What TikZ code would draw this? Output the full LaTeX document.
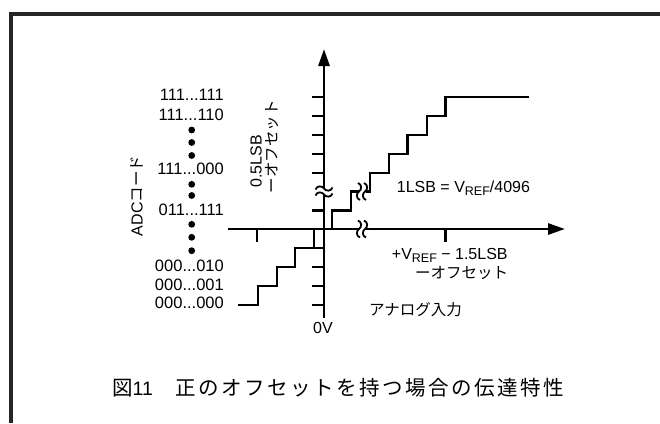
\documentclass[tikz,border=0pt]{standalone}
\usepackage{fontspec}
\setmainfont{Liberation Sans}
\newfontfamily\jp{Noto Sans CJK JP}
\newfontfamily\jpcap[LetterSpace=12]{Noto Sans CJK JP}
\usetikzlibrary{arrows.meta}
\tikzset{
  axisline/.style={line width=2.8bp, -{Triangle[length=17bp,width=11bp]}},
  tickline/.style={line width=2.8bp},
  stairline/.style={line width=2.8bp, line join=miter},
  brkline/.style={line width=1.8bp},
  frameline/.style={line width=3.5bp, draw=black!85, line join=miter},
  lbl/.style={inner sep=0pt, font=\fontsize{16bp}{19bp}\selectfont},
  codelbl/.style={inner sep=0pt, font=\fontsize{16.5bp}{19bp}\selectfont},
  jlbl/.style={inner sep=0pt, font=\jp\fontsize{15.5bp}{18bp}\selectfont},
  capt/.style={inner sep=0pt, font={\jpcap\fontsize{20.5bp}{24bp}\selectfont}},
  codedot/.style={fill=black},
  brk/.pic={
    \fill[white] (-3.5,-4) rectangle (3.5,4);
    \draw[brkline] (-4,-8.5) .. controls (0,-7) and (0,-2) .. (-3,0) .. controls (-6,2) and (-6,7) .. (-2,8.5);
    \draw[brkline] (2,-8.5) .. controls (6,-7) and (6,-2) .. (3,0) .. controls (0,2) and (0,7) .. (4,8.5);
  }
}
\begin{document}
\begin{tikzpicture}[x=1bp,y=-1bp]
\useasboundingbox (0,0) rectangle (660,423);
% frame (top and left edges)
\coordinate (fb) at (11,423);
\coordinate (fc) at (11,14);
\coordinate (fr) at (660,14);
\draw[frameline] (fb) -- (fc) -- (fr);
% axes
\coordinate (O) at (324,229);
\coordinate (vbot) at (324,318);
\coordinate (vtop) at (324,49);
\coordinate (hleft) at (228,229);
\coordinate (hright) at (565,229);
\draw[axisline] (vbot) -- (vtop);
\draw[axisline] (hleft) -- (hright);
% ticks on vertical axis
\foreach \y in {97,116,135,154,173,210.5,248,267,286,305}
  \draw[tickline] (312,\y) -- (324,\y);
% ticks on horizontal axis
\foreach \x in {257,445.5}
  \draw[tickline] (\x,229) -- (\x,242);
% staircase
\draw[stairline] (238,305) -- (258,305) -- (258,286) -- (277,286) -- (277,267)
  -- (295,267) -- (295,248) -- (314,248) -- (314,229) -- (332,229) -- (332,210.5)
  -- (351,210.5) -- (351,191.5) -- (370,191.5) -- (370,173) -- (389,173)
  -- (389,154) -- (407.5,154) -- (407.5,135) -- (427,135) -- (427,116)
  -- (445.5,116) -- (445.5,97) -- (529,97);
% breaks
\pic at (362,191.5) {brk};
\pic at (362,229) {brk};
\pic[rotate=90] at (324,191.5) {brk};
% code labels
\node[codelbl, anchor=east] (c1) at (224,95) {111...111};
\node[codelbl, anchor=east] (c2) at (224,115) {111...110};
\node[codelbl, anchor=east] (c3) at (224,169.3) {111...000};
\node[codelbl, anchor=east] (c4) at (224,210) {011...111};
\node[codelbl, anchor=east] (c5) at (224,265.7) {000...010};
\node[codelbl, anchor=east] (c6) at (224,285) {000...001};
\node[codelbl, anchor=east] (c7) at (224,303.3) {000...000};
\foreach \y in {130,142.5,155.5,184.3,195.5,224.3,237.3,250.7}
  \fill[codedot] (191.7,\y) circle (3.4);
% axis labels
\node[lbl, rotate=90] (adc) at (137,196) {ADC{\jp\fontsize{15.5bp}{18bp}\selectfont コード}};
\node[lbl, rotate=90] (half) at (256,161.5) {0.5LSB};
\node[jlbl, rotate=90] (offv) at (272,146.5) {ーオフセット};
\node[lbl, anchor=base west] (lsb) at (396.7,192.4) {1LSB = V{\fontsize{12.5bp}{14bp}\selectfont\raisebox{-3.5bp}{REF}}/4096};
\node[lbl, anchor=base west] (vref) at (391.7,259.7) {+V{\fontsize{12.5bp}{14bp}\selectfont\raisebox{-3bp}{REF}} − 1.5LSB};
\node[jlbl] (offh) at (461.5,273.3) {ーオフセット};
\node[jlbl] (ana) at (415.5,310) {アナログ入力};
\node[lbl] (zero) at (323,328) {0V};
% caption
\node[capt, anchor=west] (cap) at (112,388) {図{\rmfamily\fontsize{19.5bp}{22bp}\selectfont 11}　正のオフセットを持つ場合の伝達特性};
\end{tikzpicture}
\end{document}
